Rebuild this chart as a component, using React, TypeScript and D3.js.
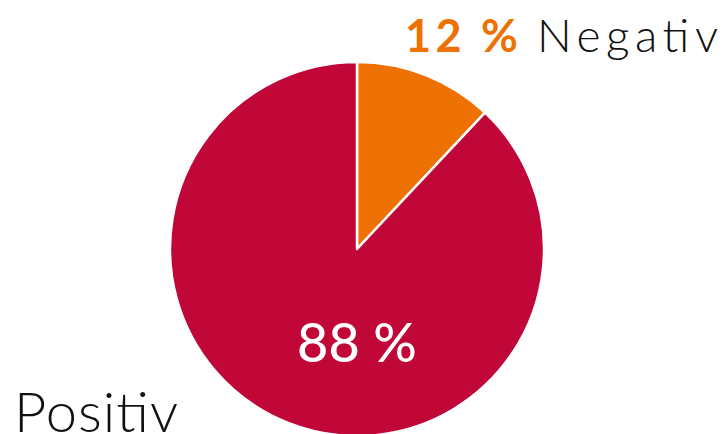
import React, { useEffect, useRef } from "react";
import * as d3 from "d3";

export const categories: string[] = ["Negativ", "Positiv"];
export const values: number[] = [12, 88];
export const colors: string[] = ["#EE7203", "#C10737"];

const width = 724;
const height = 434;
const radius = 187;
const cx = 357;
const cy = 249;
const fontFamily = "Lato, 'Open Sans', sans-serif";

const PieChart = () => {
  const ref = useRef<SVGSVGElement | null>(null);

  useEffect(() => {
    const root = d3.select(ref.current);
    root.selectAll("*").remove();

    const svg = root.append("g").attr("transform", `translate(${cx}, ${cy})`);

    const pie = d3
      .pie<number>()
      .value((d) => d)
      .sort(null);

    const arc = d3.arc<d3.PieArcDatum<number>>().innerRadius(0).outerRadius(radius);

    svg
      .selectAll("path.slice")
      .data(pie(values))
      .enter()
      .append("path")
      .attr("class", "slice")
      .attr("d", arc)
      .attr("fill", (_d, i) => colors[i])
      .attr("stroke", "#ffffff")
      .attr("stroke-width", 2.5)
      .attr("stroke-linejoin", "round");

    const total = d3.sum(values);
    const pct = (v: number) => `${Math.round((v / total) * 100)} %`;

    // Negativ label, top right
    root
      .append("text")
      .attr("x", 405)
      .attr("y", 52)
      .attr("fill", colors[0])
      .attr("textLength", 113)
      .attr("lengthAdjust", "spacing")
      .style("font-family", fontFamily)
      .style("font-size", "45px")
      .style("font-weight", "bold")
      .text(pct(values[0]));
    root
      .append("text")
      .attr("x", 537)
      .attr("y", 52)
      .attr("fill", "#111111")
      .attr("textLength", 181)
      .attr("lengthAdjust", "spacing")
      .style("font-family", fontFamily)
      .style("font-size", "46px")
      .style("font-weight", "300")
      .text(categories[0]);

    // Positiv value inside the slice
    root
      .append("text")
      .attr("x", 357)
      .attr("y", 362)
      .attr("text-anchor", "middle")
      .attr("fill", "#ffffff")
      .style("font-family", fontFamily)
      .style("font-size", "54px")
      .style("font-weight", "500")
      .text(pct(values[1]));

    // Positiv label, bottom left
    root
      .append("text")
      .attr("x", 14)
      .attr("y", 432)
      .attr("fill", "#111111")
      .attr("textLength", 164)
      .attr("lengthAdjust", "spacing")
      .style("font-family", fontFamily)
      .style("font-size", "56px")
      .style("font-weight", "300")
      .text(categories[1]);
  }, []);

  return (
    <svg
      ref={ref}
      width={width}
      height={height}
      style={{ position: "absolute", left: 0, top: 0, display: "block", background: "#fff" }}
    />
  );
};

export default function App() {
  return <PieChart />;
}
